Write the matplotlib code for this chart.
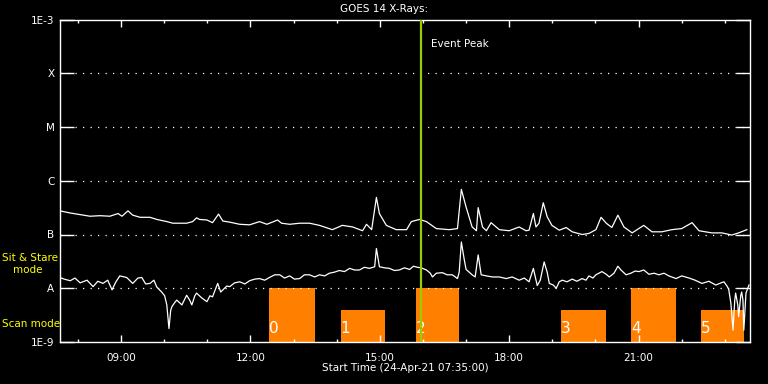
import matplotlib
matplotlib.use("Agg")
import matplotlib.pyplot as plt
import matplotlib.dates as mdates
import numpy as np
import pandas as pd

# Time axis: 24-Apr-21 from 07:35, values in decimal hours
day = pd.Timestamp("2021-04-24")
t_start, t_end = 7 + 35 / 60, 23 + 35 / 60

# GOES long channel (1-8 A), log10 flux
long_hours = [7.58, 7.82, 8.05, 8.28, 8.51, 8.74, 8.93, 9.02, 9.16, 9.27, 9.44, 9.67, 9.83, 10.06,
              10.20, 10.52, 10.66, 10.75, 10.82, 10.99, 11.12, 11.26, 11.36, 11.52, 11.75, 11.98,
              12.21, 12.38, 12.63, 12.72, 12.91, 13.14, 13.37, 13.60, 13.90, 14.13, 14.37, 14.60,
              14.69, 14.81, 14.92, 14.99, 15.15, 15.38, 15.62, 15.73, 15.92, 16.08, 16.31, 16.61,
              16.80, 16.89, 17.00, 17.14, 17.24, 17.28, 17.38, 17.47, 17.58, 17.77, 18.00, 18.23,
              18.39, 18.46, 18.56, 18.62, 18.69, 18.79, 18.88, 18.99, 19.16, 19.32, 19.46, 19.69,
              19.85, 20.01, 20.13, 20.25, 20.38, 20.52, 20.66, 20.85, 21.12, 21.31, 21.54, 21.77,
              22.00, 22.24, 22.40, 22.70, 22.93, 23.16, 23.32, 23.51]
long_logflux = [-6.56, -6.60, -6.63, -6.66, -6.65, -6.66, -6.61, -6.66, -6.56, -6.64, -6.68, -6.68,
                -6.72, -6.76, -6.79, -6.79, -6.76, -6.69, -6.72, -6.73, -6.78, -6.62, -6.75, -6.77,
                -6.81, -6.82, -6.76, -6.81, -6.73, -6.79, -6.81, -6.79, -6.79, -6.83, -6.91, -6.83,
                -6.86, -6.93, -6.81, -6.91, -6.31, -6.61, -6.83, -6.91, -6.91, -6.76, -6.72, -6.76,
                -6.89, -6.91, -6.89, -6.16, -6.49, -6.86, -6.93, -6.50, -6.86, -6.93, -6.78, -6.91,
                -6.93, -6.86, -6.93, -6.92, -6.61, -6.86, -6.79, -6.41, -6.67, -6.83, -6.92, -6.87,
                -6.95, -7.00, -6.98, -6.91, -6.68, -6.79, -6.87, -6.64, -6.86, -6.97, -6.83, -6.95,
                -6.95, -6.91, -6.89, -6.78, -6.93, -6.97, -6.97, -7.01, -6.97, -6.91]

# GOES short channel (0.5-4 A)
short_hours = [7.58, 7.68, 7.82, 7.93, 8.05, 8.21, 8.35, 8.46, 8.58, 8.69, 8.79, 8.88, 8.97, 9.13,
               9.27, 9.39, 9.48, 9.57, 9.67, 9.76, 9.83, 9.94, 10.01, 10.06, 10.11, 10.15, 10.18,
               10.25, 10.29, 10.41, 10.52, 10.59, 10.64, 10.71, 10.75, 10.87, 10.99, 11.06, 11.12,
               11.24, 11.31, 11.36, 11.45, 11.52, 11.63, 11.75, 11.87, 11.98, 12.10, 12.21, 12.33,
               12.44, 12.56, 12.68, 12.79, 12.91, 13.02, 13.14, 13.25, 13.37, 13.49, 13.60, 13.72,
               13.83, 13.95, 14.06, 14.18, 14.30, 14.41, 14.53, 14.64, 14.76, 14.88, 14.92, 14.99,
               15.11, 15.22, 15.34, 15.45, 15.57, 15.69, 15.78, 15.87, 15.96, 16.08, 16.17, 16.22,
               16.31, 16.45, 16.56, 16.68, 16.80, 16.84, 16.89, 16.96, 17.00, 17.07, 17.14, 17.21,
               17.28, 17.35, 17.47, 17.61, 17.77, 17.93, 18.07, 18.23, 18.35, 18.46, 18.56, 18.65,
               18.72, 18.81, 18.88, 18.93, 19.02, 19.09, 19.16, 19.23, 19.34, 19.46, 19.57, 19.69,
               19.78, 19.85, 19.94, 20.01, 20.08, 20.15, 20.25, 20.32, 20.43, 20.52, 20.59, 20.71,
               20.82, 20.92, 21.01, 21.12, 21.24, 21.36, 21.47, 21.59, 21.70, 21.87, 22.00, 22.17,
               22.31, 22.47, 22.63, 22.79, 22.91, 22.98, 23.05, 23.09, 23.14, 23.19, 23.23, 23.25,
               23.30, 23.32, 23.37, 23.39, 23.42, 23.44, 23.49, 23.56]
short_logflux = [-7.80, -7.83, -7.86, -7.81, -7.90, -7.85, -7.97, -7.87, -7.91, -7.85, -8.03, -7.88,
                 -7.77, -7.80, -7.91, -7.81, -7.80, -7.92, -7.91, -7.85, -7.98, -8.07, -8.14, -8.31,
                 -8.75, -8.41, -8.34, -8.26, -8.22, -8.31, -8.13, -8.22, -8.31, -8.14, -8.09, -8.18,
                 -8.25, -8.14, -8.16, -7.91, -8.07, -8.03, -7.96, -7.97, -7.90, -7.88, -7.92, -7.86,
                 -7.83, -7.82, -7.85, -7.80, -7.75, -7.75, -7.81, -7.77, -7.83, -7.82, -7.75, -7.75,
                 -7.79, -7.75, -7.77, -7.72, -7.70, -7.67, -7.69, -7.63, -7.66, -7.66, -7.61, -7.63,
                 -7.60, -7.26, -7.60, -7.62, -7.63, -7.67, -7.66, -7.62, -7.65, -7.59, -7.61, -7.62,
                 -7.66, -7.72, -7.79, -7.72, -7.71, -7.75, -7.75, -7.82, -7.70, -7.14, -7.48, -7.65,
                 -7.70, -7.75, -7.79, -7.38, -7.75, -7.77, -7.79, -7.79, -7.82, -7.79, -7.85, -7.81,
                 -7.88, -7.63, -7.95, -7.85, -7.51, -7.70, -7.91, -7.94, -8.00, -7.88, -7.85, -7.88,
                 -7.83, -7.87, -7.82, -7.85, -7.77, -7.81, -7.75, -7.72, -7.69, -7.74, -7.79, -7.72,
                 -7.59, -7.66, -7.75, -7.72, -7.68, -7.69, -7.66, -7.74, -7.72, -7.75, -7.72, -7.77,
                 -7.82, -7.77, -7.81, -7.85, -7.91, -7.87, -7.94, -7.90, -7.88, -7.96, -8.02, -8.28,
                 -8.78, -8.22, -8.09, -8.31, -8.53, -8.13, -8.07, -8.22, -8.78, -8.09, -7.94]

# IRIS observations: start/end hours, top level (A level = sit & stare, lower = scan)
obs_labels = ["0", "1", "2", "3", "4", "5"]
obs_start = [12.44, 14.09, 15.83, 19.20, 20.82, 22.44]
obs_end = [13.50, 15.12, 16.84, 20.24, 21.86, 23.44]
obs_level = [1e-8, 4e-9, 1e-8, 4e-9, 1e-8, 4e-9]
event_peak = 15.96

ytick_vals = [1e-9, 1e-8, 1e-7, 1e-6, 1e-5, 1e-4, 1e-3]
ytick_text = ["1E-9", "A", "B", "C", "M", "X", "1E-3"]


def to_time(hours):
    return day + pd.to_timedelta(np.asarray(hours), unit="h")


plt.rcParams["font.family"] = "DejaVu Sans"
fig = plt.figure(figsize=(7.68, 3.84), dpi=100, facecolor="black")
ax = fig.add_axes([60 / 768, 42 / 384, 690 / 768, 322.5 / 384], facecolor="black")
ax.set_yscale("log")
ax.set_ylim(1e-9, 1e-3)
ax.set_xlim(to_time(t_start), to_time(t_end))

# observation bars
for lab, s, e, lev in zip(obs_labels, obs_start, obs_end, obs_level):
    ax.bar(to_time(s), lev - 1e-9, width=(e - s) / 24, bottom=1e-9, align="edge",
           color="#ff8000", zorder=1)
    ax.text(to_time(s), 1.8e-9, lab, color="white", fontsize=11, ha="left", va="center", zorder=4)

for v in ytick_vals[1:-1]:
    ax.axhline(v, color="white", lw=0.9, ls=(0, (1, 5)), zorder=2)

ax.plot(to_time(long_hours), 10 ** np.array(long_logflux), color="white", lw=0.9, zorder=3)
ax.plot(to_time(short_hours), 10 ** np.array(short_logflux), color="white", lw=0.9, zorder=3)

ax.axvline(to_time(event_peak), color="#9acd00", lw=1.6, zorder=5)
ax.text(to_time(event_peak + 0.22), 10 ** -3.45, "Event Peak", color="white", fontsize=7.5,
        va="center", ha="left")

# axes styling
for sp in ax.spines.values():
    sp.set_color("white")
    sp.set_linewidth(1)
ax.set_yticks(ytick_vals)
ax.set_yticklabels(ytick_text)
ax.yaxis.set_minor_locator(matplotlib.ticker.NullLocator())
ax.tick_params(axis="y", which="major", direction="in", length=10, width=1, colors="white",
               left=True, right=True, labelsize=7.5, pad=4)
ax.xaxis.set_major_locator(mdates.HourLocator(byhour=range(0, 24, 3)))
ax.xaxis.set_minor_locator(mdates.HourLocator())
ax.xaxis.set_major_formatter(mdates.DateFormatter("%H:%M"))
ax.tick_params(axis="x", which="major", direction="in", length=5, width=1, colors="white",
               top=True, bottom=True, labelsize=7.5, pad=8)
ax.tick_params(axis="x", which="minor", direction="in", length=2.5, width=1, colors="white",
               top=True, bottom=True)

fig.text(0.5, 1 - 9 / 384, "GOES 14 X-Rays:", color="white", fontsize=7.5, ha="center", va="center")
fig.text(405 / 768, 1 - 368 / 384, "Start Time (24-Apr-21 07:35:00)", color="white", fontsize=7.5,
         ha="center", va="center")
fig.text(2 / 768, 1 - 258 / 384, "Sit & Stare", color="#ffff00", fontsize=7.5, va="center")
fig.text(13 / 768, 1 - 270 / 384, "mode", color="#ffff00", fontsize=7.5, va="center")
fig.text(2 / 768, 1 - 324 / 384, "Scan mode", color="#ffff00", fontsize=7.5, va="center")

fig.savefig("out.png", dpi=100, facecolor="black")
